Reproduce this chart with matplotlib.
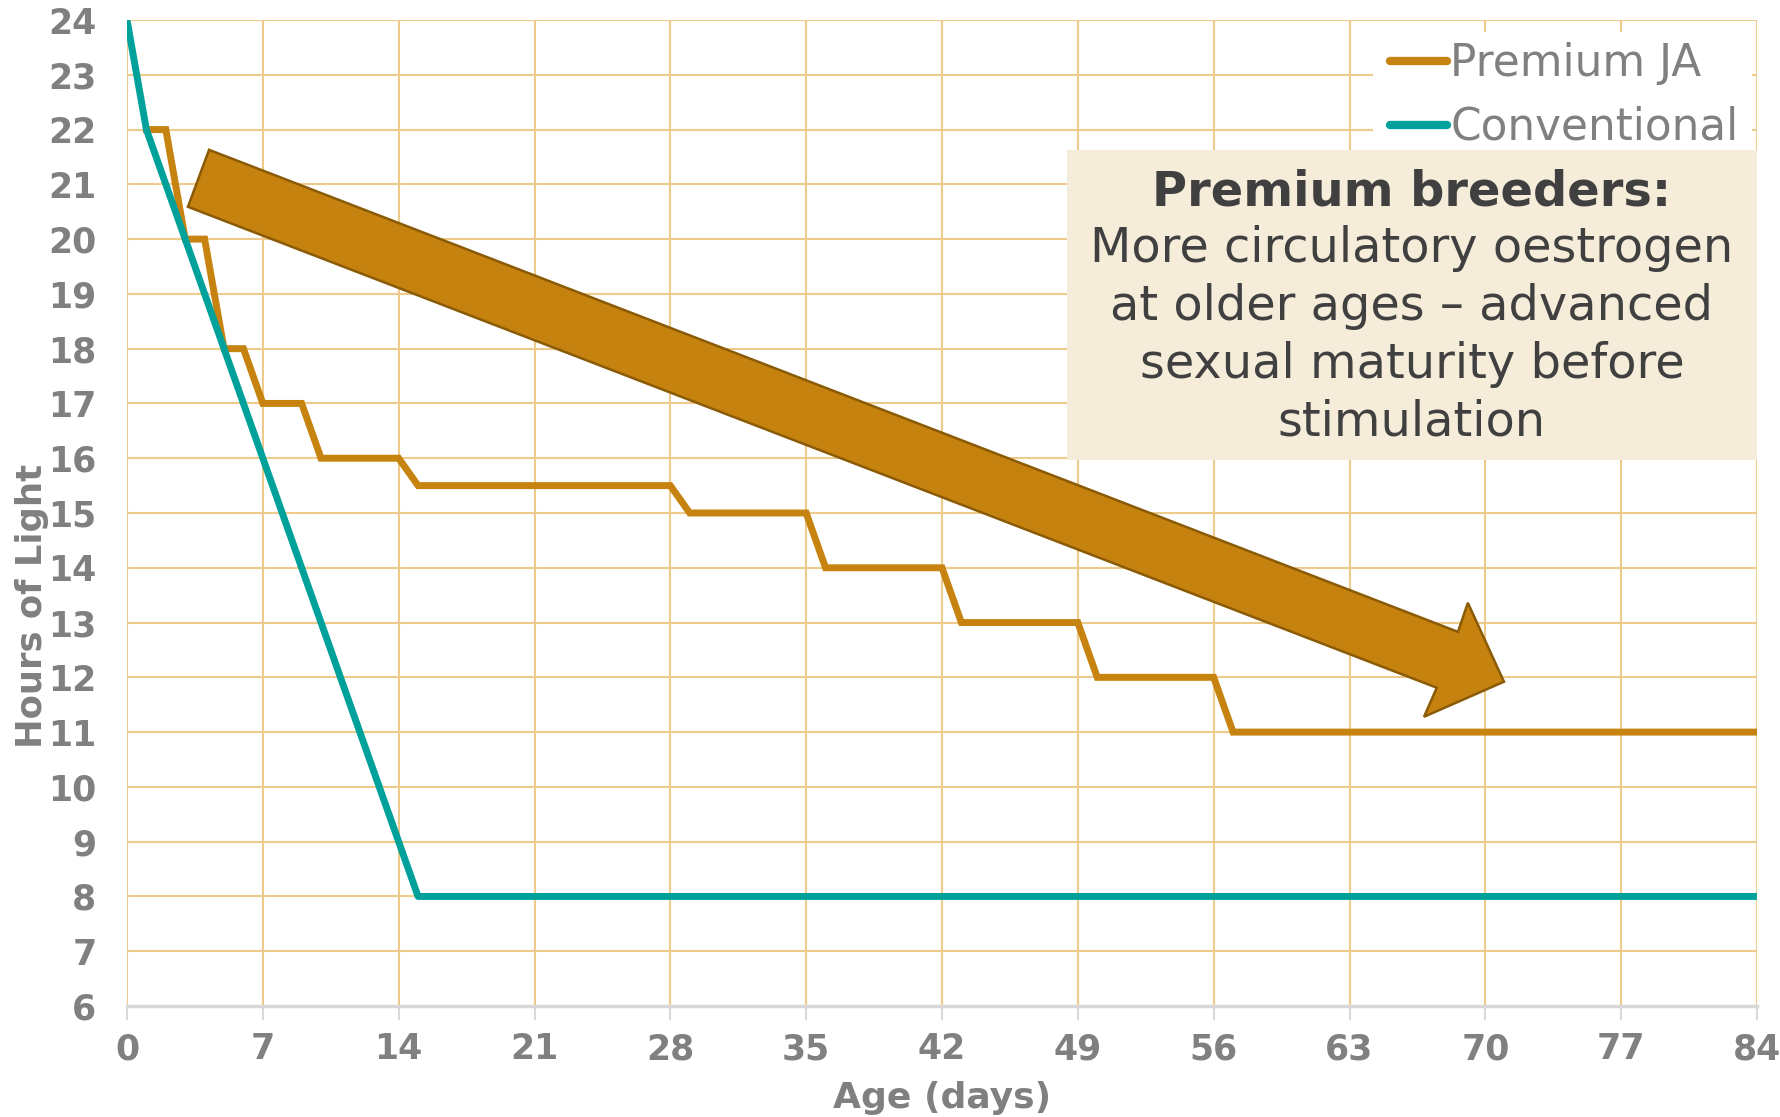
import matplotlib
matplotlib.use("Agg")
import matplotlib.pyplot as plt
from matplotlib.patches import Polygon, Rectangle

# ---- data ----
premium_x = [1, 2, 3, 4, 5, 6, 7, 9, 10, 14, 15, 28, 29, 35, 36, 42, 43, 49, 50, 56, 57, 84]
premium_y = [22, 22, 20, 20, 18, 18, 17, 17, 16, 16, 15.5, 15.5, 15, 15, 14, 14, 13, 13, 12, 12, 11, 11]
conv_x = [0, 1, 15, 84]
conv_y = [24, 22, 8, 8]
x_ticks = [0, 7, 14, 21, 28, 35, 42, 49, 56, 63, 70, 77, 84]
y_ticks = list(range(6, 25))

# arrow annotation outline (data coords)
arrow_x = [4.23, 68.59, 69.1, 70.96, 66.84, 67.5, 3.14]
arrow_y = [21.63, 12.83, 13.36, 11.92, 11.28, 11.81, 20.59]

W, H = 1780, 1117
fig = plt.figure(figsize=(W / 100, H / 100), dpi=100)
L, R, T, B = 127, 1757, 20, 1006
ax = fig.add_axes([L / W, 1 - B / H, (R - L) / W, (B - T) / H])

ORANGE = "#C7830F"
TEAL = "#00A19B"
GRID = "#EECB8A"
GRAY = "#808080"

ax.set_xlim(0, 84)
ax.set_ylim(6, 24)
ax.set_xticks(x_ticks)
ax.set_yticks(y_ticks)
ax.set_axisbelow(True)
ax.grid(True, color=GRID, lw=1.5, zorder=0)
for s in ["top", "right", "left"]:
    ax.spines[s].set_visible(False)
ax.spines["bottom"].set_color("#D9D9D9")
ax.spines["bottom"].set_linewidth(2.5)
ax.tick_params(axis="x", colors="#D9D9D9", length=10, width=1.5, direction="out", pad=9)
ax.tick_params(axis="y", length=0, pad=22)
for lab in ax.get_xticklabels() + ax.get_yticklabels():
    lab.set_color(GRAY)
    lab.set_fontweight("bold")
    lab.set_fontsize(25)
    lab.set_family("DejaVu Sans")

ax.plot(premium_x, premium_y, color=ORANGE, lw=5, solid_joinstyle="miter", zorder=3, label="Premium JA")
ax.plot(conv_x, conv_y, color=TEAL, lw=5, zorder=3, label="Conventional")

ax.set_xlabel("Age (days)", fontsize=26, fontweight="bold", color=GRAY, va="center")
ax.xaxis.set_label_coords(0.5, -0.0933)
ax.set_ylabel("Hours of Light", fontsize=25.5, fontweight="bold", color=GRAY, va="center")
ax.yaxis.set_label_coords(-0.0583, 0.4057)

# white legend background
ax.add_patch(Rectangle((1373 / W, 1 - 152 / H), (1752 - 1373) / W, (152 - 32) / H,
                       transform=fig.transFigure, facecolor="white", edgecolor="none",
                       zorder=2, clip_on=False))
# annotation box
ax.add_patch(Rectangle((1067 / W, 1 - 460 / H), (1757 - 1067) / W, (460 - 150) / H,
                       transform=fig.transFigure, facecolor="#F5ECD9", edgecolor="none",
                       zorder=2, clip_on=False))

leg = ax.legend(loc="upper right", bbox_to_anchor=(0.9995, 0.9955), frameon=False,
                fontsize=31.5, labelcolor=GRAY, handlelength=1.3, handletextpad=0.07,
                labelspacing=0.48, borderaxespad=0.0)
for h in leg.get_lines():
    h.set_linewidth(6)
    h.set_solid_capstyle("round")
leg.set_zorder(6)

cx = (1067 + 1757) / 2 / W
ax.text(cx, 1 - 192 / H, "Premium breeders:", ha="center", va="center", fontsize=34.5,
        fontweight="bold", color="#404040", zorder=7, transform=fig.transFigure)
body = ["More circulatory oestrogen", "at older ages \u2013 advanced",
        "sexual maturity before", "stimulation"]
for i, line in enumerate(body):
    ax.text(cx, 1 - (249 + i * 57.5) / H, line, ha="center", va="center", fontsize=34.5,
            color="#404040", zorder=7, transform=fig.transFigure)

poly = Polygon(list(zip(arrow_x, arrow_y)), closed=True, facecolor="#C5820F",
               edgecolor="#8A5A05", lw=1.8, zorder=4, clip_on=False)
ax.add_patch(poly)

fig.savefig("out.png", dpi=100)
